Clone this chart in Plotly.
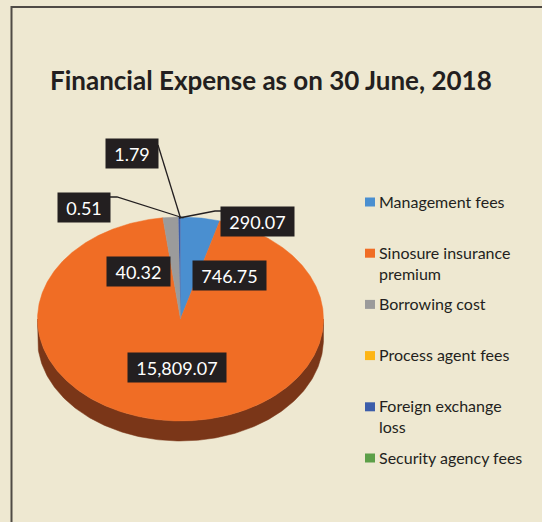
import numpy as np
import plotly.graph_objects as go

# ---------------- data ----------------
categories = ["Management fees", "Sinosure insurance premium", "Borrowing cost",
              "Process agent fees", "Foreign exchange loss", "Security agency fees"]
values = [746.75, 15809.07, 290.07, 1.79, 40.32, 0.51]
value_text = ["746.75", "15,809.07", "290.07", "1.79", "40.32", "0.51"]
title_text = "Financial Expense as on 30 June, 2018"

# ---------------- style ----------------
colors = ["#4A8FD0", "#F06D25", "#9B9B9B", "#FDB515", "#3C5DAA", "#5C9F48"]
side_colors = ["#2F5F8C", "#7A3618", "#666666", "#A87808", "#27396A", "#3B6A2E"]
BG = "#EEE8D1"
INK = "#231F20"
FONT = "Lato"

W, H = 542, 522
CX, CY, RX, RY, DEPTH = 180.5, 319.0, 143.0, 102.0, 20.0

# data-label boxes: (center x, center y, box width) -- layout only
label_boxes = {
    0: (229, 275, 73),
    1: (177, 367, 98),
    2: (257, 221, 73),
    3: (132, 153, 52),
    4: (138, 271, 63),
    5: (84, 207, 52),
}
# leader lines: elbow points from the box towards the slice edge
leaders = {
    2: [(221, 211), (215, 211)],
    3: [(158, 145)],
    5: [(110, 197), (117, 197)],
}


def ell(theta_deg, dy=0.0):
    t = np.radians(theta_deg)
    return CX + RX * np.sin(t), CY - RY * np.cos(t) + dy


total = float(sum(values))
angles = np.cumsum([0.0] + [v / total * 360.0 for v in values])

fig = go.Figure()

# sides (visible front half, 90..270 deg)
for i, v in enumerate(values):
    a0, a1 = angles[i], angles[i + 1]
    lo, hi = max(a0, 90.0), min(a1, 270.0)
    if hi <= lo:
        continue
    th = np.linspace(lo, hi, 200)
    xt, yt = ell(th)
    xb, yb = ell(th[::-1], DEPTH)
    fig.add_trace(go.Scatter(
        x=np.concatenate([xt, xb, xt[:1]]), y=np.concatenate([yt, yb, yt[:1]]),
        mode="lines", fill="toself", fillcolor=side_colors[i],
        line=dict(color=side_colors[i], width=0.5),
        hoverinfo="skip", showlegend=False))

# top face wedges
for i, v in enumerate(values):
    a0, a1 = angles[i], angles[i + 1]
    n = max(3, int((a1 - a0) * 2))
    th = np.linspace(a0, a1, n)
    xa, ya = ell(th)
    lw = 0.5 if (a1 - a0) > 2 else 0
    fig.add_trace(go.Scatter(
        x=np.concatenate([[CX], xa, [CX]]), y=np.concatenate([[CY], ya, [CY]]),
        mode="lines", fill="toself", fillcolor=colors[i],
        line=dict(color=colors[i], width=lw),
        name=categories[i], hoveron="fills",
        text=f"{categories[i]}: {value_text[i]}", hoverinfo="text",
        showlegend=False))

# leader lines
tip_x, tip_y = ell(angles[-1])
for i, pts in leaders.items():
    xs = [p[0] for p in pts] + [tip_x + (i - 3) * 1.5]
    ys = [p[1] for p in pts] + [tip_y + 1]
    fig.add_trace(go.Scatter(x=xs, y=ys, mode="lines",
                             line=dict(color=INK, width=1.3),
                             hoverinfo="skip", showlegend=False))

annotations = []
# data labels
for i, (bx, by, bw) in label_boxes.items():
    annotations.append(dict(
        x=bx, y=by, xref="x", yref="y", text=value_text[i], showarrow=False,
        xanchor="center", yanchor="middle", width=bw, height=29, borderpad=0,
        bgcolor=INK, font=dict(family=FONT, size=18, color="white")))

# title
annotations.append(dict(
    x=271, y=80, xref="x", yref="y", text=f"<b>{title_text}</b>", showarrow=False,
    xanchor="center", yanchor="middle",
    font=dict(family=FONT, size=26, color=INK)))


def wrap(s):
    if len(s) <= 20:
        return s
    words, lines, cur = s.split(), [], ""
    for w in words:
        if cur and len(cur) + 1 + len(w) > 18:
            lines.append(cur)
            cur = w
        else:
            cur = (cur + " " + w).strip()
    lines.append(cur)
    return "<br>".join(lines)


shapes = []
# legend
LEG_Y0, LEG_STEP = 202, 51.2
for i, c in enumerate(categories):
    yc = LEG_Y0 + i * LEG_STEP
    shapes.append(dict(type="rect", xref="x", yref="y", x0=365, x1=375,
                       y0=yc - 4.5, y1=yc + 4.5, fillcolor=colors[i],
                       line=dict(width=0)))
    annotations.append(dict(
        x=378, y=yc - 11.5, xref="x", yref="y", text=wrap(c), showarrow=False,
        xanchor="left", yanchor="top", align="left", borderpad=0,
        font=dict(family=FONT, size=16, color=INK)))

# frame
shapes.append(dict(type="rect", xref="x", yref="y", x0=11.5, y0=7, x1=620, y1=620,
                   line=dict(color="#4F4A45", width=2), fillcolor="rgba(0,0,0,0)",
                   layer="below"))

fig.update_layout(
    width=W, height=H, autosize=False,
    margin=dict(l=0, r=0, t=0, b=0),
    paper_bgcolor=BG, plot_bgcolor=BG,
    xaxis=dict(range=[0, W], visible=False, fixedrange=True),
    yaxis=dict(range=[H, 0], visible=False, fixedrange=True),
    annotations=annotations, shapes=shapes,
    showlegend=False,
)

fig.write_html(
    "out.html",
    config={"displayModeBar": False},
    post_script="document.body.style.margin='0px';document.body.style.overflow='hidden';"
                "document.body.style.background='" + BG + "';",
)
